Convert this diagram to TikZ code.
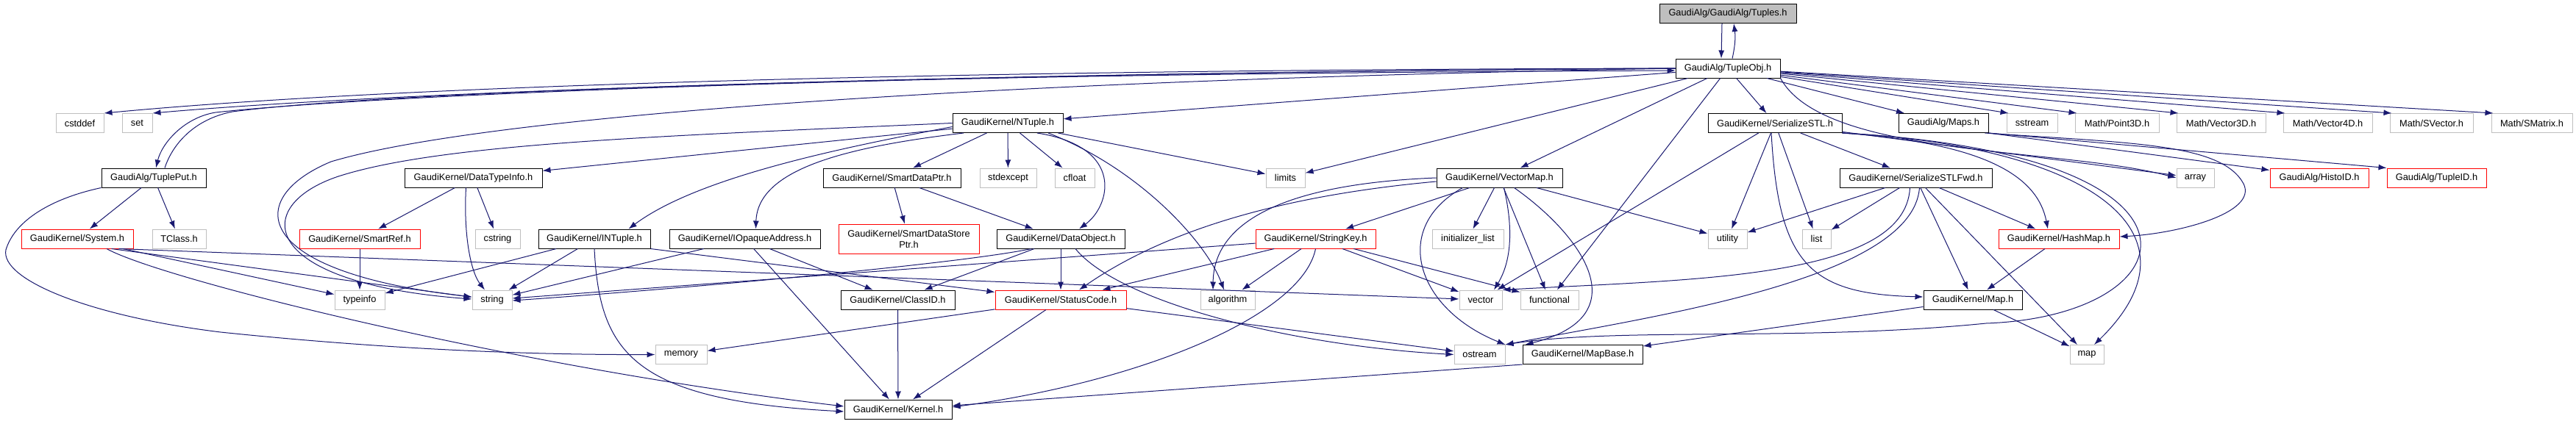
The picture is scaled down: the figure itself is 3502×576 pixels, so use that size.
\documentclass[tikz,border=0pt]{standalone}
\usepackage{fontspec}
\setmainfont{Liberation Sans}
\usepackage{xcolor}
\usetikzlibrary{arrows.meta}
\definecolor{edgeblue}{HTML}{191970}
\definecolor{extgray}{HTML}{BFBFBF}
\tikzset{
  hfile/.style={draw, line width=1pt, fill=white, inner sep=0pt, minimum height=26pt, align=center, font=\fontsize{12.8}{15}\selectfont},
  docfile/.style={hfile, draw=black},
  sysfile/.style={hfile, draw=extgray},
  undocfile/.style={hfile, draw=red},
  rootfile/.style={hfile, draw=black, fill=extgray},
  incl/.style={draw=edgeblue, line width=1pt, -{Latex[length=11pt,width=8pt]}},
}
\begin{document}
\begin{tikzpicture}[x=1pt,y=-1pt]
                \useasboundingbox (0,0) rectangle (3502,576);
                \fill[white] (0,0) rectangle (3502,576);
                % Row 1 and 2
                \node[rootfile, minimum width=186pt] (tuples) at (2349,18.5) {GaudiAlg/GaudiAlg/Tuples.h};
                \node[docfile, minimum width=142pt] (tupleobj) at (2349,93) {GaudiAlg/TupleObj.h};
                % Row 3
                \node[sysfile, minimum width=65pt] (cstddef) at (108.5,167.5) {cstddef};
                \node[sysfile, minimum width=41pt] (set) at (186.5,167.5) {set};
                \node[docfile, minimum width=150pt] (ntuple) at (1370,167.5) {GaudiKernel/NTuple.h};
                \node[docfile, minimum width=182pt] (serialstl) at (2413,167.5) {GaudiKernel/SerializeSTL.h};
                \node[docfile, minimum width=122pt] (maps) at (2642,167.5) {GaudiAlg/Maps.h};
                \node[sysfile, minimum width=69pt] (sstream) at (2762.5,167.5) {sstream};
                \node[sysfile, minimum width=114pt] (point3d) at (2878,167.5) {Math/Point3D.h};
                \node[sysfile, minimum width=121pt] (vector3d) at (3019.5,167.5) {Math/Vector3D.h};
                \node[sysfile, minimum width=121pt] (vector4d) at (3164.5,167.5) {Math/Vector4D.h};
                \node[sysfile, minimum width=113pt] (svector) at (3305.5,167.5) {Math/SVector.h};
                \node[sysfile, minimum width=110pt] (smatrix) at (3442,167.5) {Math/SMatrix.h};
                % Row 4
                \node[docfile, minimum width=142pt] (tupleput) at (209,242) {GaudiAlg/TuplePut.h};
                \node[docfile, minimum width=187pt] (datatype) at (643.5,242) {GaudiKernel/DataTypeInfo.h};
                \node[docfile, minimum width=187pt] (smartptr) at (1212.5,242) {GaudiKernel/SmartDataPtr.h};
                \node[sysfile, minimum width=77pt] (stdexcept) at (1370.5,242) {stdexcept};
                \node[sysfile, minimum width=54pt] (cfloat) at (1461,242) {cfloat};
                \node[sysfile, minimum width=53pt] (limits) at (1747.5,242) {limits};
                \node[docfile, minimum width=171pt] (vectormap) at (2038.5,242) {GaudiKernel/VectorMap.h};
                \node[docfile, minimum width=207pt] (serialfwd) at (2604.5,242) {GaudiKernel/SerializeSTLFwd.h};
                \node[sysfile, minimum width=51pt] (array) at (2984.5,242) {array};
                \node[undocfile, minimum width=134pt] (histoid) at (3153,242) {GaudiAlg/HistoID.h};
                \node[undocfile, minimum width=135pt] (tupleid) at (3312.5,242) {GaudiAlg/TupleID.h};
                % Row 5
                \node[undocfile, minimum width=152pt] (system) at (105,325) {GaudiKernel/System.h};
                \node[sysfile, minimum width=73pt] (tclass) at (243.5,325) {TClass.h};
                \node[undocfile, minimum width=164pt] (smartref) at (489,325) {GaudiKernel/SmartRef.h};
                \node[sysfile, minimum width=61pt] (cstring) at (676.5,325) {cstring};
                \node[docfile, minimum width=152pt] (intuple) at (808,325) {GaudiKernel/INTuple.h};
                \node[docfile, minimum width=205pt] (opaque) at (1012.5,325) {GaudiKernel/IOpaqueAddress.h};
                \node[undocfile, minimum width=191pt, minimum height=40pt] (storeptr) at (1235.5,325) {GaudiKernel/SmartDataStore\\Ptr.h};
                \node[docfile, minimum width=174pt] (dataobj) at (1442,325) {GaudiKernel/DataObject.h};
                \node[undocfile, minimum width=163pt] (stringkey) at (1788.5,325) {GaudiKernel/StringKey.h};
                \node[sysfile, minimum width=97pt] (initlist) at (1995.5,325) {initializer\_list};
                \node[sysfile, minimum width=53pt] (utility) at (2348.5,325) {utility};
                \node[sysfile, minimum width=39pt] (list) at (2469.5,325) {list};
                \node[undocfile, minimum width=164pt] (hashmap) at (2799,325) {GaudiKernel/HashMap.h};
                % Row 6
                \node[sysfile, minimum width=68pt] (typeinfo) at (489,408) {typeinfo};
                \node[sysfile, minimum width=54pt] (string) at (669,408) {string};
                \node[docfile, minimum width=155pt] (classid) at (1220.5,408) {GaudiKernel/ClassID.h};
                \node[undocfile, minimum width=178pt] (statuscode) at (1442,408) {GaudiKernel/StatusCode.h};
                \node[sysfile, minimum width=74pt] (algorithm) at (1669,408) {algorithm};
                \node[sysfile, minimum width=58pt] (vector) at (2013,408) {vector};
                \node[sysfile, minimum width=79pt] (functional) at (2106.5,408) {functional};
                \node[docfile, minimum width=134pt] (maph) at (2682,408) {GaudiKernel/Map.h};
                % Row 7 and 8
                \node[sysfile, minimum width=70pt] (memory) at (926,482.5) {memory};
                \node[sysfile, minimum width=69pt] (ostream) at (2011.5,482.5) {ostream};
                \node[docfile, minimum width=163pt] (mapbase) at (2151.5,482.5) {GaudiKernel/MapBase.h};
                \node[sysfile, minimum width=46pt] (map) at (2837,482.5) {map};
                \node[docfile, minimum width=146pt] (kernel) at (1221,557) {GaudiKernel/Kernel.h};

                % Tuples.h and TupleObj.h
                \draw[incl] ([xshift=-8pt]tuples.south) -- ([xshift=-9pt]tupleobj.north);
                \draw[incl] ([xshift=6pt]tupleobj.north) to[bend right=10] ([xshift=8pt]tuples.south);
                \draw[incl] (tupleobj.west) .. controls (1200,95) and (500,120) .. (cstddef.north east);
                \draw[incl] (tupleobj.west) .. controls (1200,100) and (500,128) .. (set.north east);
                \draw[incl] (tupleobj.west) .. controls (1200,100) and (500,130) .. (293,153) .. controls (250,160) and (220,195) .. ([xshift=3pt]tupleput.north);
                \draw[incl] ([xshift=15pt]tupleput.north) .. controls (235,195) and (265,162) .. (316,152) .. controls (520,125) and (1250,100) .. ([yshift=-3pt]tupleobj.west);
                \draw[incl] (tupleobj.west) .. controls (1300,110) and (650,160) .. (450,220) .. controls (330,270) and (340,370) .. ([yshift=4pt]string.west);
                \draw[incl] (tupleobj) -- (ntuple);
                \draw[incl] (tupleobj) -- (limits);
                \draw[incl] (tupleobj) -- (vectormap);
                \draw[incl] (tupleobj) -- (functional);
                \draw[incl] (tupleobj) -- (serialstl);
                \draw[incl] (tupleobj) -- (maps);
                \foreach \dst in {sstream, point3d, vector3d, vector4d, svector, smatrix}
                  \draw[incl] (tupleobj) -- ([xshift=3pt]\dst.north west);
                \draw[incl] (tupleobj.south east) .. controls (2480,215) and (2800,200) .. (array.west);

                % TuplePut.h
                \draw[incl] (tupleput) -- (system);
                \draw[incl] (tupleput) -- (tclass);
                \draw[incl] (tupleput.south west) .. controls (70,270) and (20,300) .. (8,340) .. controls (0,380) and (120,430) .. (300,452) .. controls (550,478) and (750,483) .. (memory.west);

                % NTuple.h
                \draw[incl] (ntuple) -- (datatype);
                \draw[incl] (ntuple) -- (smartptr);
                \draw[incl] (ntuple) -- (stdexcept);
                \draw[incl] (ntuple) -- (cfloat);
                \draw[incl] (ntuple) -- (limits);
                \draw[incl] ([yshift=-5pt]ntuple.west) .. controls (1150,200) and (950,240) .. ([xshift=-30pt]intuple.north east);
                \draw[incl] ([xshift=-60pt]ntuple.south) .. controls (1150,200) and (1030,230) .. ([xshift=15pt]opaque.north);
                \draw[incl] ([xshift=40pt]ntuple.south) .. controls (1530,200) and (1510,280) .. ([xshift=25pt]dataobj.north);
                \draw[incl] ([xshift=55pt]ntuple.south) .. controls (1550,230) and (1640,330) .. ([xshift=-5pt]algorithm.north);
                \draw[incl] (ntuple.west) .. controls (900,185) and (600,195) .. (460,240) .. controls (340,280) and (350,385) .. ([yshift=1pt]string.west);

                % DataTypeInfo.h and SmartRef.h
                \draw[incl] (datatype) -- (smartref);
                \draw[incl] (datatype) -- (cstring);
                \draw[incl] ([xshift=-10pt]datatype.south) .. controls (630,320) and (640,370) .. ([xshift=-10pt]string.north);
                \draw[incl] (smartref) -- (typeinfo);

                % System.h
                \draw[incl] (system) -- (typeinfo);
                \draw[incl] ([xshift=-30pt]system.south east) -- (string);
                \draw[incl] ([xshift=-20pt]system.south east) -- (vector);
                \draw[incl] ([xshift=40pt]system.south) .. controls (220,380) and (700,500) .. ([yshift=4pt]kernel.west);

                % INTuple.h and IOpaqueAddress.h
                \draw[incl] (intuple) -- (typeinfo);
                \draw[incl] (intuple) -- (string);
                \draw[incl] (intuple.south east) -- ([yshift=-3pt]statuscode.north west);
                \draw[incl] (intuple.south) .. controls (815,480) and (860,545) .. ([yshift=-3pt]kernel.west);
                \draw[incl] (opaque) -- (string);
                \draw[incl] (opaque) -- (kernel);
                \draw[incl] (opaque) -- (classid);

                % SmartDataPtr.h and DataObject.h
                \draw[incl] (smartptr) -- (storeptr);
                \draw[incl] (smartptr) -- (dataobj);
                \draw[incl] ([xshift=-40pt]dataobj.south) .. controls (1300,360) and (900,395) .. ([yshift=-1pt]string.east);
                \draw[incl] (dataobj) -- (classid);
                \draw[incl] (dataobj) -- (statuscode);
                \draw[incl] ([xshift=20pt]dataobj.south) .. controls (1520,410) and (1750,470) .. (ostream.west);

                % ClassID.h and StatusCode.h
                \draw[incl] (classid) -- (kernel);
                \draw[incl] (statuscode) -- (memory);
                \draw[incl] (statuscode) -- (kernel);
                \draw[incl] (statuscode) -- (ostream);

                % StringKey.h
                \draw[incl] (stringkey) -- (string);
                \draw[incl] (stringkey) -- (statuscode);
                \draw[incl] (stringkey) -- (algorithm);
                \draw[incl] (stringkey) -- (vector);
                \draw[incl] (stringkey) -- (functional);
                \draw[incl] (stringkey.south) .. controls (1770,430) and (1550,520) .. ([yshift=3pt]kernel.east);

                % VectorMap.h
                \draw[incl] (vectormap) -- (stringkey);
                \draw[incl] (vectormap) -- (initlist);
                \draw[incl] (vectormap) -- (utility);
                \draw[incl] ([xshift=6pt]vectormap.south) .. controls (2055,300) and (2058,350) .. ([xshift=18pt]vector.north);
                \draw[incl] (vectormap) -- (functional);
                \draw[incl] ([xshift=-50pt]vectormap.south) .. controls (1890,310) and (1925,420) .. (ostream.north east);
                \draw[incl] ([xshift=20pt]vectormap.south) .. controls (2150,320) and (2230,430) .. ([xshift=4pt]mapbase.north west);
                \draw[incl] (vectormap.west) .. controls (1750,250) and (1650,300) .. ([xshift=-20pt]algorithm.north);
                \draw[incl] ([yshift=-5pt]vectormap.west) .. controls (1700,270) and (1560,330) .. ([xshift=25pt]statuscode.north);

                % SerializeSTL.h
                \draw[incl] (serialstl) -- (serialfwd);
                \draw[incl] (serialstl) -- (utility);
                \draw[incl] (serialstl) -- (list);
                \draw[incl] (serialstl) -- (vector);
                \draw[incl] (serialstl) -- (array);
                \draw[incl] (serialstl.south east) .. controls (2700,195) and (2770,240) .. ([xshift=-15pt]hashmap.north);
                \draw[incl] ([xshift=-5pt]serialstl.south) .. controls (2418,360) and (2460,400) .. ([yshift=4pt]maph.west);
                \draw[incl] (serialstl.south east) .. controls (2850,200) and (3000,320) .. ([xshift=10pt]map.north);
                \draw[incl] (serialstl.south east) .. controls (3040,210) and (2980,430) .. (2700,440) .. controls (2450,465) and (2200,445) .. (ostream.north east);

                % SerializeSTLFwd.h
                \draw[incl] (serialfwd) -- (utility);
                \draw[incl] (serialfwd) -- (list);
                \draw[incl] ([xshift=-8pt]serialfwd.south) .. controls (2590,380) and (2300,380) .. (vector.north east);
                \draw[incl] ([xshift=5pt]serialfwd.south) .. controls (2600,380) and (2250,430) .. (ostream.north east);
                \draw[incl] (serialfwd) -- (maph);
                \draw[incl] (serialfwd) -- (map);
                \draw[incl] (serialfwd) -- (hashmap);

                % Maps.h
                \draw[incl] (maps.south east) -- ([yshift=-3pt]histoid.north west);
                \draw[incl] (maps.south east) -- (tupleid.north west);
                \draw[incl] ([xshift=-5pt]maps.south east) .. controls (2900,195) and (3020,195) .. (3050,250) .. controls (3070,290) and (2960,318) .. ([yshift=3pt]hashmap.east);

                % HashMap.h, Map.h and MapBase.h
                \draw[incl] (hashmap) -- (maph);
                \draw[incl] (maph) -- (mapbase);
                \draw[incl] (maph) -- (map);
                \draw[incl] (mapbase.south west) -- ([yshift=5pt]kernel.east);
            \end{tikzpicture}
\end{document}
